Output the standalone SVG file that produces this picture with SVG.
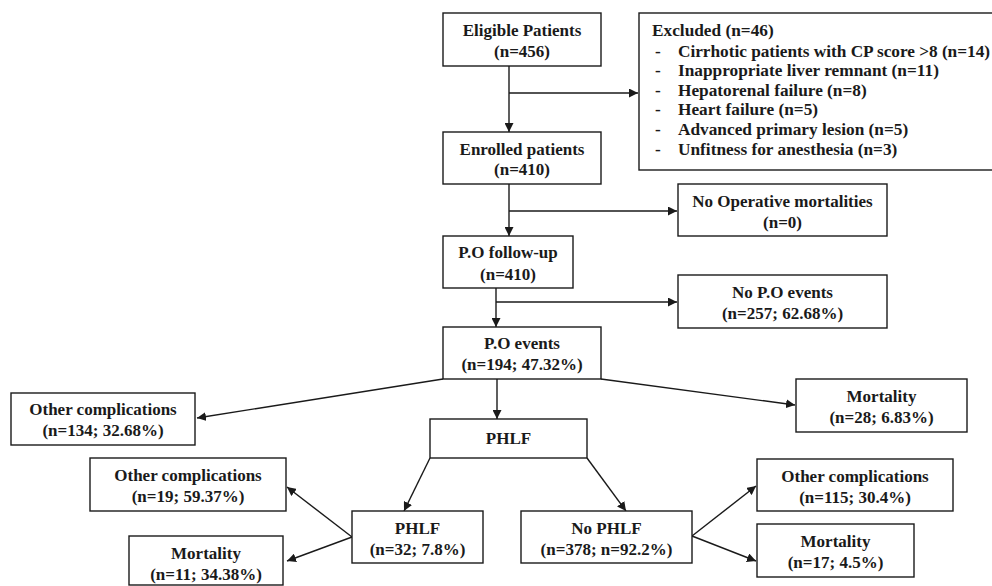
<svg xmlns="http://www.w3.org/2000/svg" width="992" height="586" viewBox="0 0 992 586">
<defs>
<marker id="ah" viewBox="0 0 10 10" refX="10" refY="5" markerWidth="9" markerHeight="9" markerUnits="userSpaceOnUse" orient="auto">
<path d="M0,0 L10,5 L0,10 z" fill="#1a1a1a"/>
</marker>
<style>
.box{fill:#fff;stroke:#1a1a1a;stroke-width:1.4}
.t{font-family:'Liberation Serif','DejaVu Serif','Times New Roman',serif;font-weight:700;font-size:17px;fill:#1a1a1a;text-anchor:middle}
.l{font-family:'Liberation Serif','DejaVu Serif','Times New Roman',serif;font-weight:700;font-size:17.3px;fill:#1a1a1a}
.c{fill:none;stroke:#1a1a1a;stroke-width:1.4}
</style>
</defs>
<rect width="992" height="586" fill="#fff"/>
<g id="connectors">
<line class="c" x1="509" y1="66" x2="509" y2="132" marker-end="url(#ah)"/>
<line class="c" x1="509" y1="93" x2="638" y2="93" marker-end="url(#ah)"/>
<line class="c" x1="509" y1="184" x2="509" y2="236" marker-end="url(#ah)"/>
<line class="c" x1="509" y1="211" x2="677" y2="211" marker-end="url(#ah)"/>
<line class="c" x1="496" y1="288" x2="496" y2="327" marker-end="url(#ah)"/>
<line class="c" x1="496" y1="302" x2="677" y2="302" marker-end="url(#ah)"/>
<line class="c" x1="497" y1="379" x2="497" y2="419" marker-end="url(#ah)"/>
<line class="c" x1="443" y1="379" x2="197" y2="418" marker-end="url(#ah)"/>
<line class="c" x1="601" y1="379" x2="795" y2="405" marker-end="url(#ah)"/>
<line class="c" x1="430" y1="458" x2="404" y2="511" marker-end="url(#ah)"/>
<line class="c" x1="587" y1="458" x2="626" y2="511" marker-end="url(#ah)"/>
<line class="c" x1="352" y1="537" x2="287" y2="487" marker-end="url(#ah)"/>
<line class="c" x1="352" y1="537" x2="287" y2="561" marker-end="url(#ah)"/>
<line class="c" x1="692" y1="536" x2="756" y2="486" marker-end="url(#ah)"/>
<line class="c" x1="692" y1="536" x2="756" y2="561" marker-end="url(#ah)"/>
</g>
<g id="eligible">
<rect class="box" x="443" y="13" width="158" height="53"/>
<text class="t" x="522" y="36">Eligible Patients</text>
<text class="t" x="522" y="57">(n=456)</text>
</g>
<g id="excluded">
<rect class="box" x="639" y="13" width="358" height="157"/>
<text class="l" x="652" y="36">Excluded (n=46)</text>
<text class="l" x="655" y="57">-</text><text class="l" x="678" y="57" textLength="312" lengthAdjust="spacing">Cirrhotic patients with CP score &gt;8 (n=14)</text>
<text class="l" x="655" y="76">-</text><text class="l" x="678" y="76">Inappropriate liver remnant (n=11)</text>
<text class="l" x="655" y="96">-</text><text class="l" x="678" y="96">Hepatorenal failure (n=8)</text>
<text class="l" x="655" y="115">-</text><text class="l" x="678" y="115">Heart failure (n=5)</text>
<text class="l" x="655" y="135">-</text><text class="l" x="678" y="135">Advanced primary lesion (n=5)</text>
<text class="l" x="655" y="155">-</text><text class="l" x="678" y="155">Unfitness for anesthesia (n=3)</text>
</g>
<g id="enrolled">
<rect class="box" x="443" y="132" width="158" height="52"/>
<text class="t" x="522" y="155">Enrolled patients</text>
<text class="t" x="522" y="175">(n=410)</text>
</g>
<g id="no-operative">
<rect class="box" x="678" y="184" width="209" height="52"/>
<text class="t" x="782.5" y="207">No Operative mortalities</text>
<text class="t" x="782.5" y="228">(n=0)</text>
</g>
<g id="po-followup">
<rect class="box" x="443" y="236" width="130" height="52"/>
<text class="t" x="508" y="258">P.O follow-up</text>
<text class="t" x="508" y="280">(n=410)</text>
</g>
<g id="no-po-events">
<rect class="box" x="678" y="275" width="209" height="53"/>
<text class="t" x="782.5" y="298">No P.O events</text>
<text class="t" x="782.5" y="319">(n=257; 62.68%)</text>
</g>
<g id="po-events">
<rect class="box" x="443" y="327" width="158" height="52"/>
<text class="t" x="522" y="349">P.O events</text>
<text class="t" x="522" y="370">(n=194; 47.32%)</text>
</g>
<g id="other-comp-134">
<rect class="box" x="11" y="393" width="184" height="52"/>
<text class="t" x="103" y="415">Other complications</text>
<text class="t" x="103" y="436">(n=134; 32.68%)</text>
</g>
<g id="mortality-28">
<rect class="box" x="796" y="379" width="171" height="53"/>
<text class="t" x="881.5" y="402">Mortality</text>
<text class="t" x="881.5" y="423">(n=28; 6.83%)</text>
</g>
<g id="phlf">
<rect class="box" x="430" y="419" width="157" height="39"/>
<text class="t" x="508.5" y="444">PHLF</text>
</g>
<g id="phlf-32">
<rect class="box" x="352" y="511" width="131" height="52"/>
<text class="t" x="417.5" y="534">PHLF</text>
<text class="t" x="417.5" y="555">(n=32; 7.8%)</text>
</g>
<g id="no-phlf">
<rect class="box" x="521" y="511" width="171" height="52"/>
<text class="t" x="606.5" y="534">No PHLF</text>
<text class="t" x="606.5" y="555">(n=378; n=92.2%)</text>
</g>
<g id="other-comp-19">
<rect class="box" x="90" y="458" width="196" height="53"/>
<text class="t" x="188" y="481">Other complications</text>
<text class="t" x="188" y="502">(n=19; 59.37%)</text>
</g>
<g id="mortality-11">
<rect class="box" x="129" y="536" width="154" height="49"/>
<text class="t" x="206" y="559">Mortality</text>
<text class="t" x="206" y="580">(n=11; 34.38%)</text>
</g>
<g id="other-comp-115">
<rect class="box" x="757" y="459" width="196" height="52"/>
<text class="t" x="855" y="482">Other complications</text>
<text class="t" x="855" y="503">(n=115; 30.4%)</text>
</g>
<g id="mortality-17">
<rect class="box" x="757" y="524" width="157" height="53"/>
<text class="t" x="835.5" y="547">Mortality</text>
<text class="t" x="835.5" y="568">(n=17; 4.5%)</text>
</g>
</svg>
